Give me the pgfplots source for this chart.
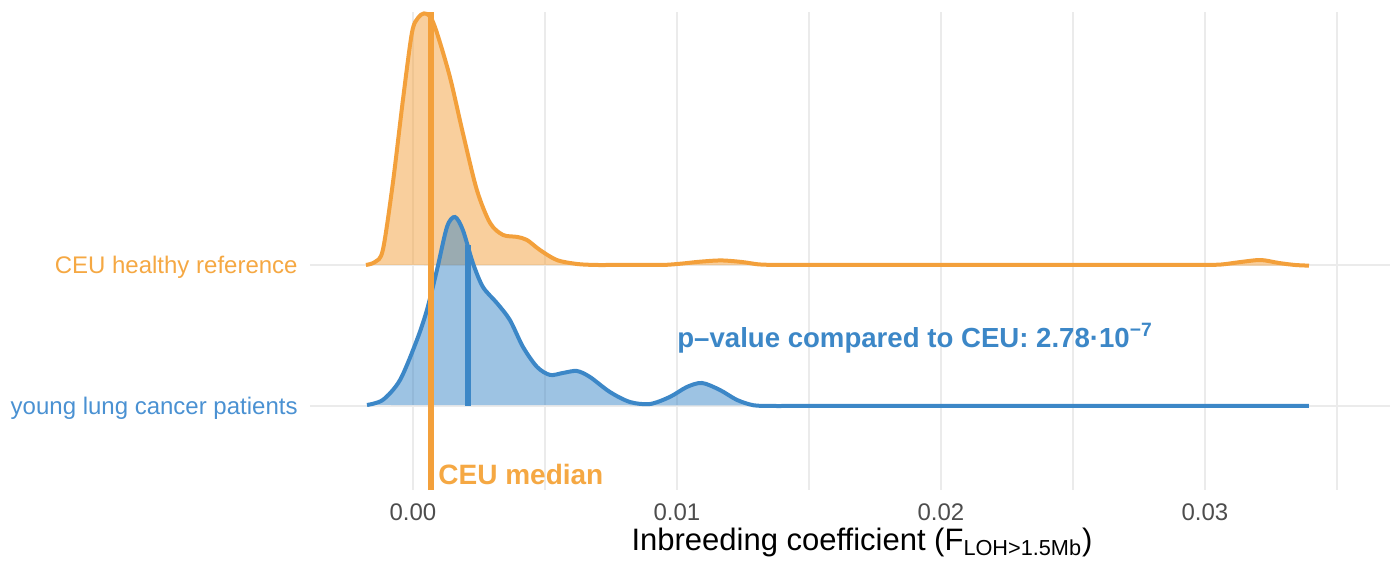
\documentclass[border=0pt]{standalone}
\usepackage{fontspec}
\setmainfont{Liberation Sans}
\usepackage{pgfplots}
\usepackage{pgfplotstable}
\pgfplotsset{compat=1.18}
\definecolor{cOr}{HTML}{F3A03B}
\definecolor{cBl}{HTML}{3C87C7}
\definecolor{cOrT}{HTML}{F5A843}
\definecolor{cBlT}{HTML}{4A91D2}
\definecolor{cGrid}{HTML}{EBEBEB}
\definecolor{cTick}{HTML}{4D4D4D}

\pgfplotstableread{
x y
-0.00178 2.000
-0.00144 2.021
-0.00114 2.106
-0.00076 2.582
-0.00038 3.170
-0.00004 3.645
0.00019 3.752
0.00042 3.784
0.00066 3.760
0.00091 3.645
0.00140 3.333
0.00189 2.936
0.00242 2.532
0.00292 2.298
0.00341 2.213
0.00394 2.199
0.00432 2.177
0.00481 2.106
0.00545 2.035
0.00621 2.007
0.00690 2.000
0.00760 2.000
0.00830 2.000
0.00900 2.000
0.00960 2.001
0.01020 2.010
0.01087 2.023
0.01167 2.032
0.01246 2.021
0.01310 2.004
0.01380 2.000
0.01460 2.000
0.01560 2.000
0.01700 2.000
0.01850 2.000
0.02000 2.000
0.02150 2.000
0.02300 2.000
0.02450 2.000
0.02600 2.000
0.02750 2.000
0.02880 2.000
0.02980 2.000
0.03060 2.003
0.03140 2.022
0.03212 2.035
0.03280 2.014
0.03340 2.000
0.03394 1.995
}\ceu

\pgfplotstableread{
x y
-0.00174 1.007
-0.00114 1.043
-0.00049 1.184
0.00015 1.468
0.00053 1.681
0.00091 1.965
0.00129 2.270
0.00159 2.340
0.00189 2.248
0.00227 2.014
0.00265 1.844
0.00318 1.730
0.00367 1.610
0.00417 1.418
0.00470 1.277
0.00519 1.220
0.00568 1.234
0.00621 1.248
0.00670 1.206
0.00746 1.099
0.00822 1.028
0.00898 1.014
0.00973 1.064
0.01038 1.135
0.01095 1.163
0.01163 1.113
0.01227 1.043
0.01290 1.005
0.01360 1.000
0.01440 1.000
0.01540 1.000
0.01680 1.000
0.01850 1.000
0.02050 1.000
0.02250 1.000
0.02450 1.000
0.02650 1.000
0.02850 1.000
0.03050 1.000
0.03230 1.000
0.03394 1.000
}\young

\begin{document}
\begin{tikzpicture}
\useasboundingbox (-155pt,-36pt) rectangle (543.5pt,245pt);
\begin{axis}[
 scale only axis, width=540pt, height=239pt,
 xmin=-0.0039, xmax=0.03701, ymin=0.404, ymax=3.794,
 axis line style={draw=none},
 major tick length=0pt, minor tick length=0pt,
 tick style={draw=none},
 xtick={0,0.01,0.02,0.03}, xticklabels={0.00,0.01,0.02,0.03},
 minor xtick={0.005,0.015,0.025,0.035},
 ytick={1,2},
 yticklabels={{\color{cBlT}young lung cancer patients},{\color{cOrT}CEU healthy reference}},
 xmajorgrids, xminorgrids, ymajorgrids,
 major grid style={draw=cGrid, line width=1.1pt},
 minor grid style={draw=cGrid, line width=0.6pt},
 xticklabel style={font=\fontsize{12}{14}\selectfont, text=cTick, yshift=-3.5pt},
 yticklabel style={font=\fontsize{12}{14}\selectfont, anchor=base east, inner sep=0pt, xshift=-6pt, yshift=-4.3pt},
 xlabel={Inbreeding coefficient (F\textsubscript{LOH>1.5Mb})},
 xlabel style={font=\fontsize{15.5}{18}\selectfont, at={(axis description cs:0.5,0)}, anchor=base, yshift=-30pt, xshift=6pt},
 scaled x ticks=false,
]
% CEU ridge
\addplot[draw=none, fill=cOr, fill opacity=0.5, smooth] table {\ceu} -- cycle;
\addplot[draw=cOr, line width=2pt, smooth] table {\ceu};
% young ridge
\addplot[draw=none, fill=cBl, fill opacity=0.5, smooth] table {\young} -- cycle;
\addplot[draw=cBl, line width=2pt, smooth] table {\young};
% young median
\addplot[draw=cBl, line width=3pt] coordinates {(0.00208,1.0) (0.00208,2.14)};
% CEU median
\addplot[draw=cOr, line width=3pt] coordinates {(0.00068,0.404) (0.00068,3.794)};
\node[anchor=base west, inner sep=0pt, font=\bfseries\fontsize{14}{16}\selectfont, text=cOrT] at (axis cs:0.00095,0.44) {CEU median};
\node[anchor=base west, inner sep=0pt, font=\bfseries\fontsize{13.8}{16}\selectfont, text=cBl] at (axis cs:0.0100,1.418) {p--value compared to CEU: 2.78·10\textsuperscript{−7}};
\end{axis}
\end{tikzpicture}
\end{document}
